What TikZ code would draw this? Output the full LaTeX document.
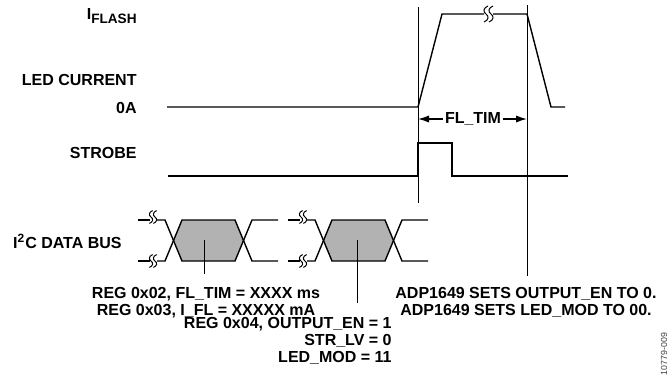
\documentclass[tikz,border=0pt]{standalone}
\usepackage{fontspec}
\setmainfont{Liberation Sans}
\usetikzlibrary{arrows.meta,positioning,calc}
\definecolor{busGray}{RGB}{178,178,178}
\tikzset{
    lbl/.style={font=\fontsize{8}{8.5}\selectfont\bfseries, inner sep=0pt},
    wave/.style={line width=0.7pt, line join=miter},
    guide/.style={line width=0.35pt},
    dim/.style={-{Latex[length=5.5pt,width=3.6pt]}, line width=0.7pt},
    % break mark, two small squiggles
    brkmark/.pic={
        \draw[line width=0.5pt] (-2,8) .. controls (3,6) and (3,2) .. (0,0) .. controls (-3,-2) and (-3,-6) .. (2,-8);
        \draw[line width=0.5pt] (3,8) .. controls (8,6) and (8,2) .. (5,0) .. controls (2,-2) and (2,-6) .. (7,-8);
    }
}
\begin{document}
\begin{tikzpicture}[x=0.5pt, y=-0.5pt]
\useasboundingbox (0,0) rectangle (669,388);

% signal names
\node[lbl, anchor=base east] (iflash) at (137,19) {I\raisebox{-2pt}{\fontsize{6.8}{7}\selectfont FLASH}};
\node[lbl, anchor=base east] (ledcur) at (137,85) {LED CURRENT};
\node[lbl, anchor=base east] (zeroA) at (137,113) {0A};
\node[lbl, anchor=base east] (strobe) at (137,158) {STROBE};
\node[lbl, anchor=base east] (i2c) at (122,248) {I\textsuperscript{2}C DATA BUS};

% timing guides
\coordinate (tOn) at (418,7);
\coordinate (tOnEnd) at (418,203);
\coordinate (tOff) at (527,5);

% LED current
\draw[wave] (167,107) -- (tOn |- 0,107) -- (442,14) -- (484,14);
\draw[wave] (493,14) -- (tOff |- 0,14) -- (551,107) -- (565,107);
\pic at (486,14) {brkmark};

% strobe
\draw[wave] (168,176) -- (418,176) -- (418,143) -- (452,143) -- (452,176) -- (568,176);

% I2C bus, two frames
\foreach \s in {0,150}{
    \fill[busGray] (173.5+\s,240.5) -- (182+\s,220) -- (235+\s,220) -- (243.5+\s,240.5) -- (235+\s,261) -- (182+\s,261) -- cycle;
    \draw[wave] (138+\s,220) -- (150+\s,220);
    \draw[wave] (138+\s,261) -- (150+\s,261);
    \draw[wave] (157+\s,220) -- (165+\s,220) -- (182+\s,261) -- (235+\s,261) -- (252+\s,220) -- (278+\s,220);
    \draw[wave] (157+\s,261) -- (165+\s,261) -- (182+\s,220) -- (235+\s,220) -- (252+\s,261) -- (278+\s,261);
    \pic[scale=0.8] at (151+\s,217) {brkmark};
    \pic[scale=0.8] at (151+\s,261) {brkmark};
}
\coordinate (hexA) at (204,240);
\coordinate (hexB) at (357,240);

% notes
\node[lbl, align=center, anchor=north] (regA) at (206,286.5) {REG 0x02, FL\_TIM = XXXX ms\\REG 0x03, I\_FL = XXXXX mA};
\node[lbl, align=right, anchor=north east] (regB) at (392,317) {REG 0x04, OUTPUT\_EN = 1\\STR\_LV = 0\\LED\_MOD = 11};
\node[lbl, align=center, anchor=north] (adp) at (526,287) {ADP1649 SETS OUTPUT\_EN TO 0.\\ADP1649 SETS LED\_MOD TO 00.};

\draw[guide] (tOn) -- (tOnEnd);
\draw[guide, shorten >=5.5pt] (tOff) -- (tOff |- adp.north);
\draw[guide, shorten >=6.5pt] (hexA) -- (hexA |- regA.north);
\draw[guide, shorten >=7pt] (hexB) -- (hexB |- regB.north);

% flash time
\node[lbl, inner sep=1pt] (fltim) at (473,119) {FL\_TIM};
\draw[dim] (fltim.west) -- (fltim.west -| tOn);
\draw[dim] (fltim.east) -- (fltim.east -| tOff);

\node[font=\fontsize{4.4}{5}\selectfont, text=black!75, rotate=90, anchor=base, inner sep=0pt] (figno) at (667,354) {10779-009};
\end{tikzpicture}
\end{document}
